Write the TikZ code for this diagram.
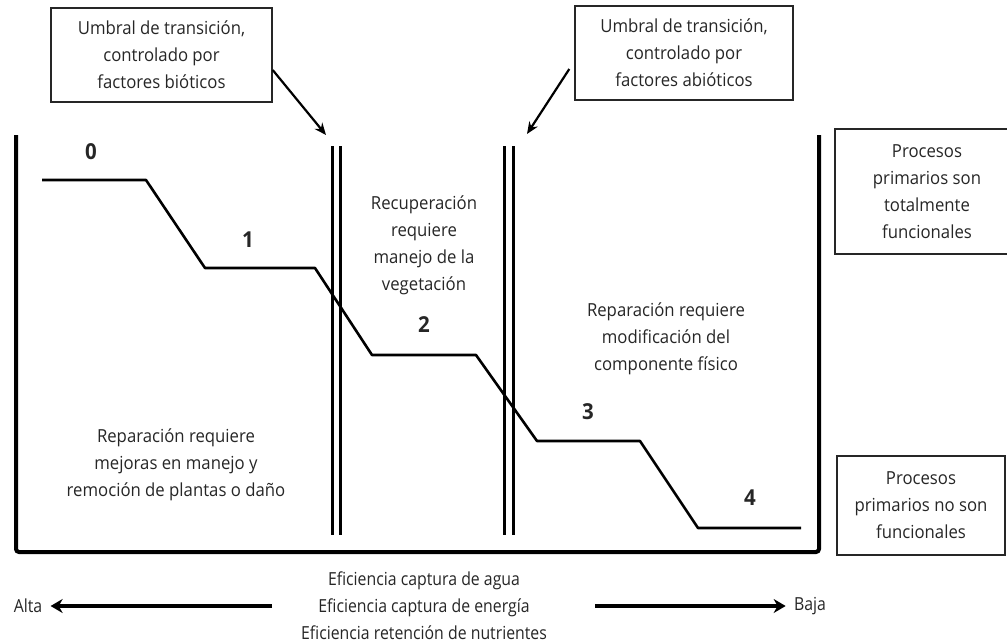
\documentclass[tikz,border=0pt]{standalone}
\usepackage{fontspec}
\setmainfont[FakeStretch=0.93]{Open Sans}
\newfontfamily\estrecha[FakeStretch=0.88]{Open Sans}
\usetikzlibrary{arrows.meta}
\tikzstyle{txt} = [align=center, text=black!85, font={\fontsize{9}{13.5}\selectfont}, inner sep=0pt]
\tikzstyle{eje} = [txt, font={\estrecha\fontsize{9}{13.5}\selectfont}]
\tikzstyle{box} = [txt, draw=black!85, line width=0.7pt]
\tikzstyle{num} = [text=black!85, font={\fontsize{11}{12}\selectfont\bfseries}]
\tikzstyle{frame} = [line width=2pt, rounded corners=1.5pt]
\tikzstyle{umbral} = [line width=1.5pt]
\tikzstyle{paso} = [line width=1.3pt, line join=round]
\tikzstyle{flecha} = [-{Stealth[length=6pt,width=5pt]}, line width=1.1pt]
\tikzstyle{flechaeje} = [-{Stealth[length=6pt,width=7pt]}, line width=1.8pt]

\begin{document}
\begin{tikzpicture}[x=0.5pt,y=-0.5pt]
    \useasboundingbox (0,0) rectangle (1007,643);
    % cajas de umbral y de estado
    \node[box,minimum width=110.5pt,minimum height=47pt](bio) at (161.5,55){Umbral de transición,\\controlado por\\factores bióticos};
    \node[box,minimum width=109pt,minimum height=47pt](abio) at (684,53){Umbral de transición,\\controlado por\\factores abióticos};
    \node[box,minimum width=92pt,minimum height=62.5pt](total) at (927,191.5){Procesos\\primarios son\\totalmente\\funcionales};
    \node[box,minimum width=84pt,minimum height=49.5pt](nofun) at (921,505.5){Procesos\\primarios no son\\funcionales};
    % marco
    \draw[frame] (16,135) |- (819,552) -- (819,135);
    \foreach \x in {332,340,504,513}
        \draw[umbral] (\x,146) -- (\x,535);
    \coordinate (u1) at (326,135);
    \coordinate (u2) at (527,134);
    \draw[flecha] ([yshift=-7.5pt]bio.east) -- (u1);
    \draw[flecha] ([xshift=-2.5pt,yshift=-8pt]abio.west) -- (u2);
    % escalones
    \draw[paso] (42,180) -- (146,180) -- (205,268) -- (315,268) -- (372,355)
        -- (476,355) -- (537,441) -- (640,441) -- (698,528) -- (801,528);
    \node[num](n0) at (91,152){0};
    \node[num](n1) at (248,240){1};
    \node[num](n2) at (424,325){2};
    \node[num](n3) at (588,412){3};
    \node[num](n4) at (750,498){4};
    \node[txt](recup) at (424,245){Recuperación\\requiere\\manejo de la\\vegetación};
    \node[txt](modif) at (666,339){Reparación requiere\\modificación del\\componente físico};
    \node[txt](mejor) at (176,465){Reparación requiere\\mejoras en manejo y\\remoción de plantas o daño};
    % eje inferior
    \node[eje](efic) at (424,606){Eficiencia captura de agua\\Eficiencia captura de energía\\Eficiencia retención de nutrientes};
    \node[eje,inner sep=4pt](alta) at (28,606){Alta};
    \node[eje,inner sep=4pt](baja) at (810,606){Baja};
    \coordinate (izq) at (272,606);
    \coordinate (der) at (595,606);
    \draw[flechaeje] (izq) -- (alta);
    \draw[flechaeje] (der) -- (baja);
\end{tikzpicture}
\end{document}
